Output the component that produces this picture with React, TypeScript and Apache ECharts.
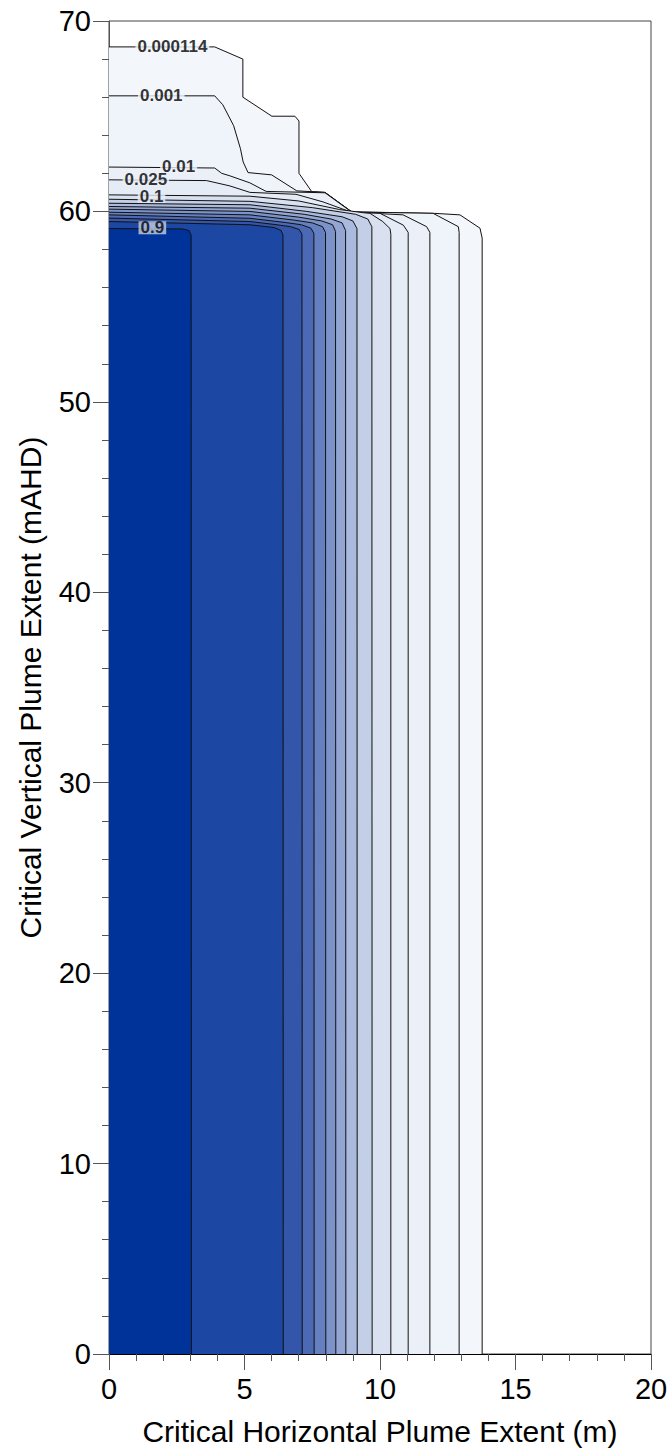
import React, { useEffect, useRef } from "react";
import * as echarts from "echarts";

// Contour polylines [x (m), y (mAHD)], outermost first
const c01_000114 = [[0,68.64],[3.9,68.64],[4.94,68.0],[4.94,66.0],[6.01,65.0],[6.86,65.0],[7.01,64.75],[7.01,62.0],[7.48,61.04],[7.97,61.0],[8.96,59.98],[12.0,59.9],[12.95,59.82],[13.69,59.12],[13.77,58.6],[13.77,0]];
const c02_001 = [[0,66.07],[3.9,66.07],[4.2,65.6],[4.6,64.5],[4.85,63.3],[4.95,62.6],[5.13,62.04],[6.0,61.92],[6.93,61.08],[7.97,61.0],[8.96,59.97],[11.96,59.9],[12.89,59.2],[12.92,58.9],[12.92,0]];
const c03_01 = [[0,62.33],[3.9,62.28],[4.16,62.0],[4.46,61.87],[5.2,61.5],[5.8,61.05],[7.97,60.98],[8.96,59.96],[10.85,59.82],[11.72,59.2],[11.84,58.9],[11.84,0]];
const c04_025 = [[0,61.66],[3.6,61.62],[4.46,61.34],[5.2,61.0],[6.9,60.9],[7.9,60.5],[8.96,59.95],[10.0,59.9],[10.86,59.28],[11.04,58.9],[11.04,0]];
const c05_1 = [[0,60.87],[5.2,60.8],[7.0,60.55],[8.5,60.1],[9.4,59.93],[9.63,59.9],[10.1,59.47],[10.37,59.1],[10.4,58.8],[10.4,0]];
const c06 = [[0,60.64],[5.2,60.53],[7.5,60.2],[9.1,59.85],[9.55,59.6],[9.7,59.2],[9.71,0]];
const c07 = [[0,60.43],[5.2,60.35],[7.3,60.0],[8.6,59.72],[9.0,59.5],[9.15,59.1],[9.16,0]];
const c08 = [[0,60.26],[5.2,60.17],[7.2,59.85],[8.2,59.6],[8.6,59.4],[8.73,59.0],[8.74,0]];
const c09 = [[0,60.12],[5.2,60.0],[7.0,59.7],[7.85,59.5],[8.25,59.3],[8.36,58.95],[8.37,0]];
const c10 = [[0,59.96],[5.2,59.82],[6.8,59.55],[7.5,59.4],[7.88,59.2],[7.99,58.9],[8.0,0]];
const c11 = [[0,59.82],[5.2,59.64],[6.5,59.42],[7.1,59.3],[7.45,59.12],[7.56,58.85],[7.57,0]];
const c12 = [[0,59.65],[5.2,59.47],[6.2,59.3],[6.7,59.2],[7.02,59.05],[7.12,58.8],[7.13,0]];
const c13 = [[0,59.47],[5.2,59.3],[5.8,59.2],[6.1,59.15],[6.35,59.0],[6.42,58.75],[6.43,0]];
const c14_9 = [[0,59.1],[2.7,59.08],[2.95,59.0],[3.03,58.75],[3.04,0]];

const contours = [c01_000114, c02_001, c03_01, c04_025, c05_1, c06, c07, c08, c09, c10, c11, c12, c13, c14_9];
const bandColors = ["#f3f6fb","#eff3fa","#ebf0f8","#e6ecf6","#d9e0f0","#c3cee7","#aab9de","#93a6d3","#7c93ca","#6580c0","#4b69b4","#3356aa","#1c47a2","#003399"];

// Contour labels
const labelTexts = ["0.000114","0.001","0.01","0.025","0.1","0.9"];
const labelX = [2.34, 1.93, 2.57, 1.36, 1.57, 1.6];
const labelY = [68.64, 66.07, 62.34, 61.7, 60.79, 59.14];
const labelBg = ["#f3f6fb","#f3f6fb","#eff3fa","#ebf0f8","#e6ecf6","#c3cee7"];

const xTitle = "Critical Horizontal Plume Extent (m)";
const yTitle = "Critical Vertical Plume Extent (mAHD)";

const FONT = "'Liberation Sans', Arial, sans-serif";

export default function App() {
  const ref = useRef<HTMLDivElement>(null);
  useEffect(() => {
    document.body.style.margin = "0";
    if (!ref.current) return;
    const chart = echarts.init(ref.current, undefined, { renderer: "svg" });
    const series: any[] = contours.map((pts, i) => ({
      type: "line",
      data: pts,
      showSymbol: false,
      symbol: "none",
      lineStyle: { color: "#111", width: 1 },
      areaStyle: { color: bandColors[i], opacity: 1, origin: "start" },
      z: 2 + i * 0.01,
      silent: true,
    }));
    series.push({
      type: "scatter",
      symbolSize: 1,
      itemStyle: { color: "rgba(0,0,0,0)" },
      z: 10,
      data: labelTexts.map((t, i) => ({
        name: t,
        value: [labelX[i], labelY[i]],
        label: { backgroundColor: labelBg[i] },
      })),
      label: {
        show: true,
        position: "inside",
        formatter: "{b}",
        color: "#000",
        fontWeight: "bold",
        fontSize: 17,
        lineHeight: 13,
        fontFamily: FONT,
        padding: [0, 2],
      },
    });
    chart.setOption({
      animation: false,
      backgroundColor: "#fff",
      grid: {
        left: 109,
        right: 20,
        top: 21,
        bottom: 101,
        show: true,
        borderColor: "#444",
        borderWidth: 1,
        backgroundColor: "transparent",
      },
      xAxis: {
        type: "value",
        min: 0,
        max: 20,
        interval: 5,
        name: xTitle,
        nameLocation: "middle",
        nameGap: 62,
        nameTextStyle: { fontSize: 30, color: "#000", fontFamily: FONT },
        axisLine: { show: true, onZero: false, lineStyle: { color: "#000", width: 1 } },
        axisTick: { show: true, length: 16, lineStyle: { color: "#555" } },
        minorTick: { show: true, splitNumber: 5, length: 7, lineStyle: { color: "#555" } },
        splitLine: { show: false },
        axisLabel: { fontSize: 29, color: "#000", fontFamily: FONT, margin: 20 },
      },
      yAxis: {
        type: "value",
        min: 0,
        max: 70,
        interval: 10,
        name: yTitle,
        nameLocation: "middle",
        nameGap: 64,
        nameRotate: 90,
        nameTextStyle: { fontSize: 30, color: "#000", fontFamily: FONT },
        axisLine: { show: true, onZero: false, lineStyle: { color: "#555", width: 1 } },
        axisTick: { show: true, length: 16, lineStyle: { color: "#555" } },
        minorTick: { show: true, splitNumber: 5, length: 7, lineStyle: { color: "#555" } },
        splitLine: { show: false },
        axisLabel: { fontSize: 29, color: "#000", fontFamily: FONT, margin: 18 },
      },
      series,
    });
    return () => chart.dispose();
  }, []);
  return <div ref={ref} style={{ width: 671, height: 1455 }} />;
}
